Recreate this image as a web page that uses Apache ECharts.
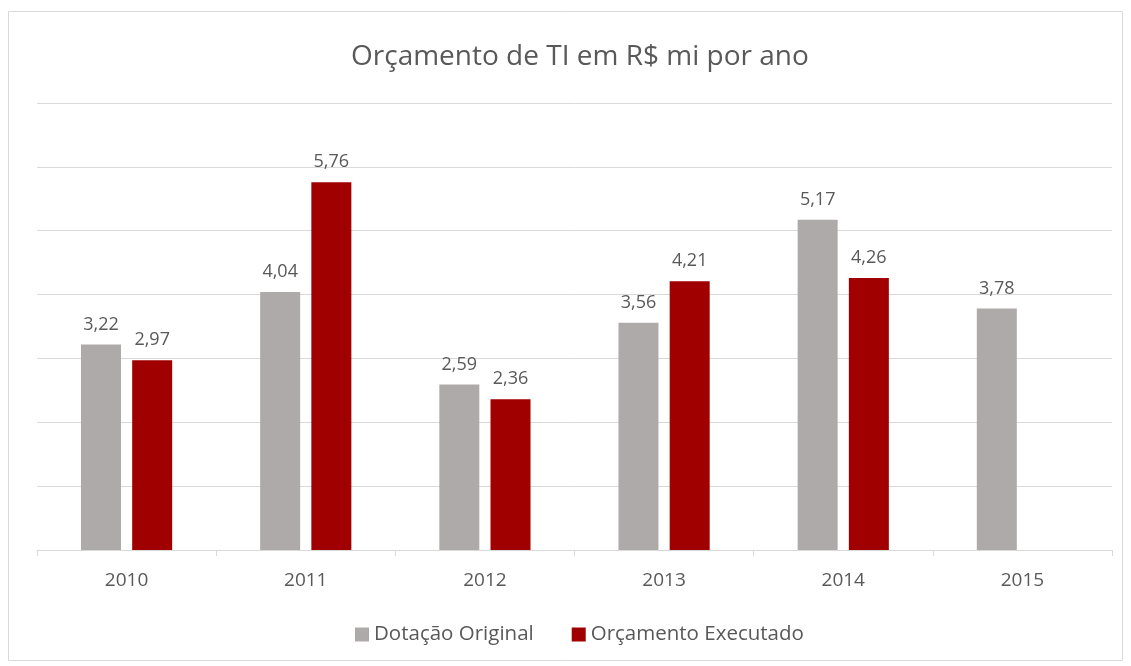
<!DOCTYPE html>
<html>
<head>
<meta charset="utf-8">
<script src="https://cdn.jsdelivr.net/npm/echarts@6/dist/echarts.min.js"></script>
<style>
  html, body { margin: 0; padding: 0; background: #fff; }
  #main { width: 1131px; height: 666px; }
</style>
</head>
<body>
<div id="main"></div>
<script>
var anos = ['2010', '2011', '2012', '2013', '2014', '2015'];
var dotacao = [3.22, 4.04, 2.59, 3.56, 5.17, 3.78];
var executado = [2.97, 5.76, 2.36, 4.21, 4.26, null];

var fmt = function (p) {
    return p.value == null ? '' : p.value.toFixed(2).replace('.', ',');
};
var txt = '#595959';
var font = '"Open Sans", sans-serif';

var chart = echarts.init(document.getElementById('main'));
chart.setOption({
    animation: false,
    textStyle: { fontFamily: font },
    graphic: [{
        type: 'rect',
        shape: { x: 8.5, y: 11.5, width: 1114, height: 649 },
        style: { fill: 'none', stroke: '#d9d9d9', lineWidth: 1 },
        silent: true
    }],
    title: {
        text: 'Orçamento de TI em R$ mi por ano',
        left: 346,
        top: 38,
        textStyle: { color: txt, fontSize: 28, fontWeight: 'normal', fontFamily: font }
    },
    legend: {
        bottom: 16,
        left: 350,
        itemWidth: 14,
        itemHeight: 14,
        itemGap: 38,
        icon: 'rect',
        textStyle: { color: txt, fontSize: 20.5, fontFamily: font },
        data: ['Dotação Original', 'Orçamento Executado']
    },
    grid: { left: 37, right: 19, top: 103, bottom: 116 },
    xAxis: {
        type: 'category',
        data: anos,
        axisLine: { lineStyle: { color: '#d9d9d9' } },
        axisTick: { show: true, length: 6, lineStyle: { color: '#d9d9d9' } },
        axisLabel: { color: txt, fontSize: 19, margin: 21, fontFamily: font }
    },
    yAxis: {
        type: 'value',
        min: 0,
        max: 7,
        interval: 1,
        axisLabel: { show: false },
        axisLine: { show: false },
        axisTick: { show: false },
        splitLine: { lineStyle: { color: '#d9d9d9' } }
    },
    series: [{
        name: 'Dotação Original',
        type: 'bar',
        data: dotacao,
        barWidth: 40,
        barGap: '28%',
        itemStyle: { color: '#aeaaaa' },
        label: { show: true, position: 'top', distance: 11, color: txt, fontSize: 18, formatter: fmt }
    }, {
        name: 'Orçamento Executado',
        type: 'bar',
        data: executado,
        barWidth: 40,
        itemStyle: { color: '#a00000' },
        label: { show: true, position: 'top', distance: 11, color: txt, fontSize: 18, formatter: fmt }
    }]
});
</script>
</body>
</html>
